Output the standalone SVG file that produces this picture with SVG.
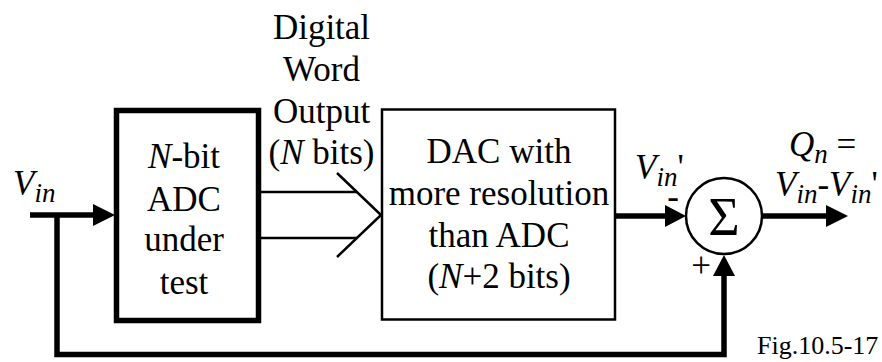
<svg xmlns="http://www.w3.org/2000/svg" width="882" height="362" viewBox="0 0 882 362" font-family="'Liberation Serif', 'DejaVu Serif', serif">
<style>
text{font-family:'Liberation Serif','DejaVu Serif',serif;font-size:35px;fill:#000}
.c{text-anchor:middle}
.i{font-style:italic}
.sub{font-size:27px;font-style:italic}
.thick{fill:none;stroke:#000;stroke-width:5.5}
.thin{fill:none;stroke:#000;stroke-width:2.5}
.head{fill:#000;stroke:none}
</style>
<rect width="882" height="362" fill="#fff"/>
<g id="connectors">
<line class="thick" x1="30" y1="215" x2="96" y2="215"/>
<polygon class="head" points="93,204 115,215 93,226"/>
<path class="thick" d="M57,215 V354.5 H724 V272"/>
<polygon class="head" points="713,276 724,255 735,276"/>
<line class="thick" x1="615" y1="216" x2="668" y2="216"/>
<polygon class="head" points="665,205 686,216 665,227"/>
<line class="thick" x1="762" y1="216" x2="829" y2="216"/>
<polygon class="head" points="826,205 848,216 826,227"/>
<line class="thin" x1="261" y1="192" x2="357" y2="192"/>
<line class="thin" x1="261" y1="238" x2="357" y2="238"/>
<polyline class="thin" points="337,173 381,215 337,257"/>
</g>
<g id="adc">
<rect class="thick" x="116.5" y="110.5" width="142" height="210" fill="#fff"/>
<text class="c" x="184" y="168"><tspan class="i">N</tspan>-bit</text>
<text class="c" x="184" y="211">ADC</text>
<text class="c" x="184" y="251">under</text>
<text class="c" x="184" y="294">test</text>
</g>
<g id="dac">
<rect class="thin" x="382" y="109.5" width="233" height="210" fill="#fff"/>
<text class="c" x="499" y="163">DAC with</text>
<text class="c" x="499" y="205">more resolution</text>
<text class="c" x="499" y="247">than ADC</text>
<text class="c" x="499" y="288">(<tspan class="i">N</tspan>+2 bits)</text>
</g>
<g id="sum">
<circle class="thin" cx="724" cy="216" r="38" fill="#fff"/>
<text class="c" x="724" y="235" style="font-size:54px">Σ</text>
<text class="c" x="673" y="208">-</text>
<text class="c" x="701" y="277">+</text>
</g>
<g id="labels">
<text class="c" x="321.5" y="39">Digital</text>
<text class="c" x="321.5" y="81">Word</text>
<text class="c" x="321.5" y="123">Output</text>
<text class="c" x="321.5" y="164">(<tspan class="i">N</tspan> bits)</text>
<text x="13" y="195"><tspan class="i">V</tspan><tspan class="sub" dy="7">in</tspan></text>
<text x="635" y="179"><tspan class="i">V</tspan><tspan class="sub" dy="7">in</tspan><tspan dy="-7">'</tspan></text>
<text x="789" y="156"><tspan class="i">Q</tspan><tspan class="sub" dy="7">n</tspan><tspan dy="-7"> =</tspan></text>
<text x="775" y="196"><tspan class="i">V</tspan><tspan class="sub" dy="7">in</tspan><tspan dy="-7">-</tspan><tspan class="i">V</tspan><tspan class="sub" dy="7">in</tspan><tspan dy="-7">'</tspan></text>
<text x="757" y="354" style="font-size:26px">Fig.10.5-17</text>
</g>
</svg>
